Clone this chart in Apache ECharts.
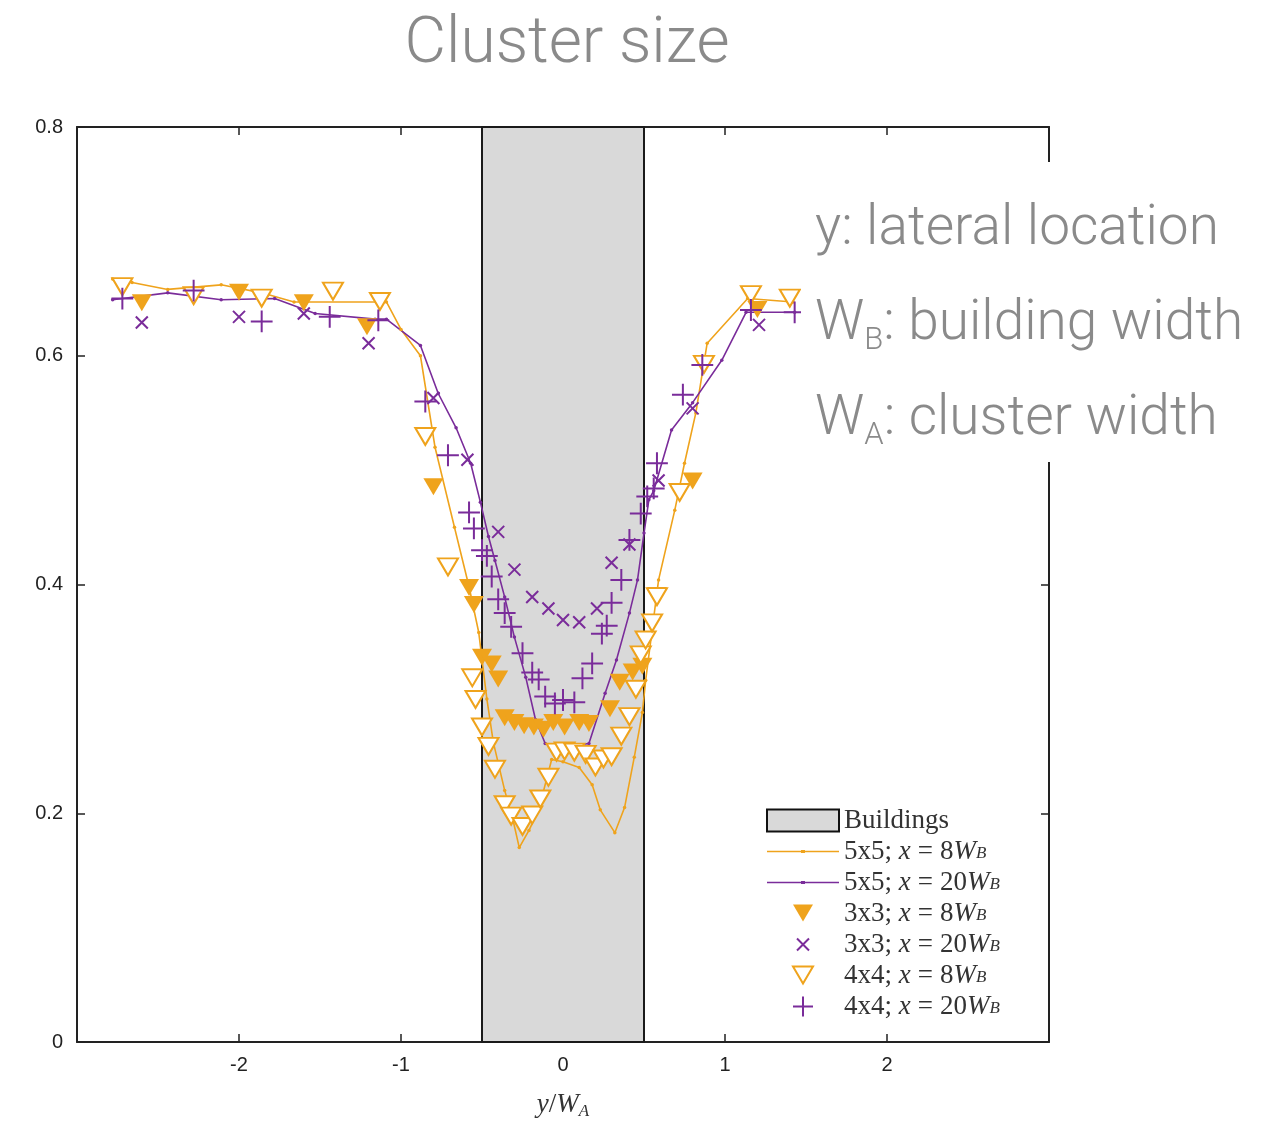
<!DOCTYPE html>
<html>
<head>
<meta charset="utf-8">
<script src="https://cdn.jsdelivr.net/npm/echarts@6/dist/echarts.min.js"></script>
<style>html,body{margin:0;padding:0;background:#fff;}#c{width:1282px;height:1125px;}</style>
</head>
<body>
<div id="c"></div>
<script>
// ---------- data (x = y/W_A, y = value) ----------
const buildingsRange = [-0.5, 0.5];
const xTicks = [-2, -1, 0, 1, 2];
const yTicks = [0, 0.2, 0.4, 0.6, 0.8];

const line5x5_8 = [[-2.78,0.667],[-2.66,0.664],[-2.44,0.658],[-2.11,0.662],[-1.86,0.655],[-1.66,0.647],[-1.09,0.647],[-1.00,0.623],[-0.88,0.600],[-0.79,0.520],[-0.67,0.450],[-0.58,0.398],[-0.52,0.358],[-0.47,0.300],[-0.43,0.262],[-0.36,0.220],[-0.31,0.195],[-0.27,0.170],[-0.21,0.185],[-0.15,0.203],[-0.07,0.247],[0.00,0.245],[0.10,0.240],[0.18,0.225],[0.23,0.203],[0.32,0.183],[0.38,0.205],[0.44,0.249],[0.49,0.288],[0.51,0.316],[0.59,0.404],[0.69,0.465],[0.75,0.506],[0.82,0.550],[0.89,0.611],[1.14,0.650],[1.42,0.647]];

const line5x5_20 = [[-2.78,0.649],[-2.44,0.655],[-2.11,0.649],[-1.78,0.650],[-1.53,0.637],[-1.16,0.632],[-1.09,0.632],[-0.88,0.609],[-0.77,0.567],[-0.66,0.537],[-0.57,0.506],[-0.51,0.472],[-0.46,0.442],[-0.42,0.421],[-0.36,0.389],[-0.30,0.354],[-0.23,0.319],[-0.17,0.282],[-0.11,0.261],[0.00,0.258],[0.16,0.261],[0.26,0.305],[0.33,0.334],[0.41,0.375],[0.46,0.404],[0.50,0.445],[0.53,0.474],[0.56,0.482],[0.67,0.535],[0.80,0.559],[0.98,0.596],[1.13,0.638],[1.43,0.638]];

const pts3x3_8 = [[-2.60,0.646],[-2.00,0.655],[-1.60,0.646],[-1.21,0.625],[-0.80,0.485],[-0.58,0.397],[-0.55,0.382],[-0.50,0.336],[-0.44,0.330],[-0.40,0.317],[-0.36,0.283],[-0.30,0.279],[-0.24,0.276],[-0.18,0.275],[-0.12,0.273],[-0.06,0.279],[0.01,0.275],[0.10,0.279],[0.16,0.278],[0.29,0.291],[0.35,0.314],[0.43,0.323],[0.49,0.328],[0.58,0.390],[0.80,0.490],[1.20,0.640]];

const pts3x3_20 = [[-2.60,0.629],[-2.00,0.634],[-1.60,0.637],[-1.20,0.611],[-0.80,0.563],[-0.59,0.509],[-0.40,0.446],[-0.30,0.413],[-0.19,0.389],[-0.09,0.379],[0.00,0.369],[0.10,0.367],[0.21,0.379],[0.30,0.419],[0.41,0.435],[0.59,0.491],[0.80,0.554],[1.21,0.627]];

const pts4x4_8 = [[-2.72,0.660],[-2.28,0.652],[-1.86,0.650],[-1.42,0.656],[-1.13,0.647],[-0.85,0.529],[-0.71,0.415],[-0.56,0.318],[-0.54,0.299],[-0.50,0.275],[-0.46,0.258],[-0.42,0.238],[-0.36,0.207],[-0.32,0.197],[-0.25,0.188],[-0.19,0.198],[-0.14,0.212],[-0.09,0.231],[-0.04,0.253],[0.01,0.254],[0.07,0.253],[0.14,0.251],[0.20,0.240],[0.25,0.247],[0.30,0.249],[0.36,0.267],[0.41,0.284],[0.45,0.308],[0.48,0.338],[0.51,0.351],[0.55,0.366],[0.58,0.389],[0.72,0.480],[0.87,0.592],[1.16,0.653],[1.40,0.650]];

const pts4x4_20 = [[-2.72,0.650],[-2.28,0.657],[-1.86,0.630],[-1.44,0.634],[-1.14,0.631],[-0.85,0.560],[-0.71,0.513],[-0.58,0.463],[-0.55,0.449],[-0.50,0.430],[-0.47,0.425],[-0.44,0.407],[-0.40,0.387],[-0.36,0.375],[-0.32,0.363],[-0.25,0.340],[-0.19,0.323],[-0.15,0.317],[-0.11,0.302],[-0.05,0.296],[0.00,0.299],[0.07,0.297],[0.12,0.318],[0.18,0.331],[0.24,0.357],[0.27,0.364],[0.30,0.384],[0.36,0.404],[0.41,0.439],[0.48,0.462],[0.52,0.477],[0.56,0.484],[0.58,0.506],[0.74,0.566],[0.86,0.592],[1.16,0.640],[1.43,0.638]];

const seriesNames = ['Buildings','5x5; x = 8W_B','5x5; x = 20W_B','3x3; x = 8W_B','3x3; x = 20W_B','4x4; x = 8W_B','4x4; x = 20W_B'];

// ---------- styles ----------
const ORANGE = '#EFA31C';
const PURPLE = '#7A2C9A';
const TRI = 'path://M0,0M26,22M3,2L23,2L13,19Z';
const CROSS = 'path://M0,0M22,22M5,5L17,17M17,5L5,17';
const PLUS = 'path://M0,0M22,22M11,1L11,21M1,11L21,11';
const LINEICON = 'path://M0,0M72,22M0,10.3L72,10.3L72,11.7L0,11.7ZM34,9.5L38,9.5L38,12.5L34,12.5Z';

const legendLabels = {
  'Buildings': '{n|Buildings}',
  '5x5; x = 8W_B': '{n|5x5; }{i|x}{e|=}{n|8}{i|W}{s|B}',
  '5x5; x = 20W_B': '{n|5x5; }{i|x}{e|=}{n|20}{i|W}{s|B}',
  '3x3; x = 8W_B': '{n|3x3; }{i|x}{e|=}{n|8}{i|W}{s|B}',
  '3x3; x = 20W_B': '{n|3x3; }{i|x}{e|=}{n|20}{i|W}{s|B}',
  '4x4; x = 8W_B': '{n|4x4; }{i|x}{e|=}{n|8}{i|W}{s|B}',
  '4x4; x = 20W_B': '{n|4x4; }{i|x}{e|=}{n|20}{i|W}{s|B}'
};

const serifRich = {
  n: {fontFamily: 'Liberation Serif', fontSize: 27, color: '#333', lineHeight: 22},
  e: {fontFamily: 'Liberation Serif', fontSize: 27, color: '#333', lineHeight: 22, padding: [0, 7, 0, 7]},
  i: {fontFamily: 'Liberation Serif', fontStyle: 'italic', fontSize: 27, color: '#333', lineHeight: 22},
  s: {fontFamily: 'Liberation Serif', fontStyle: 'italic', fontSize: 17, color: '#333', lineHeight: 6, verticalAlign: 'bottom'}
};

const chart = echarts.init(document.getElementById('c'), null, {renderer: 'canvas'});

const axisCommon = {
  type: 'value',
  axisLine: {show: true, onZero: false, lineStyle: {color: '#222', width: 2}},
  axisTick: {show: true, inside: true, length: 8, lineStyle: {color: '#222', width: 1.5}},
  splitLine: {show: false}
};

const option = {
  animation: false,
  backgroundColor: '#fff',
  title: {
    text: 'Cluster size',
    left: 562, top: 9, textAlign: 'center',
    textStyle: {fontFamily: 'Roboto', fontWeight: 300, fontSize: 64, color: '#8a8a8a'}
  },
  grid: {left: 77, right: 233, top: 127, bottom: 83, containLabel: false},
  xAxis: [
    Object.assign({}, axisCommon, {
      position: 'bottom', min: -3, max: 3, interval: 1,
      axisLabel: {show: true, margin: 13, fontFamily: 'Liberation Sans', fontSize: 20, color: '#222',
        showMinLabel: false, showMaxLabel: false,
        formatter: v => (xTicks.indexOf(v) >= 0 ? String(v) : '')},
      name: '{i|y}{n|/}{i|W}{s|A}',
      nameLocation: 'middle', nameGap: 48,
      nameTextStyle: {rich: {
        n: {fontFamily: 'Liberation Serif', fontSize: 27, color: '#333', lineHeight: 30},
        i: {fontFamily: 'Liberation Serif', fontStyle: 'italic', fontSize: 27, color: '#333', lineHeight: 30},
        s: {fontFamily: 'Liberation Serif', fontStyle: 'italic', fontSize: 17, color: '#333', lineHeight: 18, verticalAlign: 'bottom'}
      }}
    }),
    Object.assign({}, axisCommon, {
      position: 'top', min: -3, max: 3, interval: 1, axisLabel: {show: false}
    })
  ],
  yAxis: [
    Object.assign({}, axisCommon, {
      position: 'left', min: 0, max: 0.8, interval: 0.2,
      axisLabel: {show: true, margin: 14, fontFamily: 'Liberation Sans', fontSize: 20, color: '#222',
        formatter: v => (v === 0 ? '0' : v.toFixed(1))}
    }),
    Object.assign({}, axisCommon, {
      position: 'right', min: 0, max: 0.8, interval: 0.2, axisLabel: {show: false}
    })
  ],
  legend: {
    orient: 'vertical', left: 761, top: 802,
    itemWidth: 72, itemHeight: 22, itemGap: 4,
    symbolKeepAspect: true,
    selectedMode: false,
    formatter: name => legendLabels[name],
    textStyle: {rich: serifRich, padding: [0, 0, 0, 0]},
    data: [
      {name: seriesNames[0], icon: 'rect', itemStyle: {color: '#d9d9d9', borderColor: '#111', borderWidth: 2}},
      {name: seriesNames[1], icon: LINEICON, itemStyle: {color: ORANGE, borderWidth: 0}},
      {name: seriesNames[2], icon: LINEICON, itemStyle: {color: PURPLE, borderWidth: 0}},
      {name: seriesNames[3], icon: TRI, itemStyle: {color: ORANGE, borderWidth: 0}},
      {name: seriesNames[4], icon: CROSS, itemStyle: {color: PURPLE, borderColor: PURPLE, borderWidth: 2}},
      {name: seriesNames[5], icon: TRI, itemStyle: {color: '#fff', borderColor: ORANGE, borderWidth: 2}},
      {name: seriesNames[6], icon: PLUS, itemStyle: {color: PURPLE, borderColor: PURPLE, borderWidth: 2}}
    ]
  },
  series: [
    {
      name: seriesNames[0], type: 'line', data: [], silent: true,
      itemStyle: {color: '#d9d9d9'},
      markArea: {
        silent: true,
        itemStyle: {color: '#d9d9d9', borderColor: '#1a1a1a', borderWidth: 2},
        data: [[{xAxis: buildingsRange[0]}, {xAxis: buildingsRange[1]}]]
      }
    },
    {
      name: seriesNames[1], type: 'line', data: line5x5_8,
      symbol: 'circle', symbolSize: 3.5, showSymbol: true,
      lineStyle: {color: ORANGE, width: 1.6}, itemStyle: {color: ORANGE}, z: 3
    },
    {
      name: seriesNames[2], type: 'line', data: line5x5_20,
      symbol: 'circle', symbolSize: 3.5, showSymbol: true,
      lineStyle: {color: PURPLE, width: 1.6}, itemStyle: {color: PURPLE}, z: 3
    },
    {
      name: seriesNames[3], type: 'scatter', data: pts3x3_8,
      symbol: TRI, symbolSize: [26, 22],
      itemStyle: {color: ORANGE, opacity: 1}, z: 4
    },
    {
      name: seriesNames[4], type: 'scatter', data: pts3x3_20,
      symbol: CROSS, symbolSize: [22, 22],
      itemStyle: {color: PURPLE, borderColor: PURPLE, borderWidth: 2, opacity: 1}, z: 5
    },
    {
      name: seriesNames[5], type: 'scatter', data: pts4x4_8,
      symbol: TRI, symbolSize: [26, 22],
      itemStyle: {color: '#fff', borderColor: ORANGE, borderWidth: 2, opacity: 1}, z: 6
    },
    {
      name: seriesNames[6], type: 'scatter', data: pts4x4_20,
      symbol: PLUS, symbolSize: [24, 24],
      itemStyle: {color: PURPLE, borderColor: PURPLE, borderWidth: 2, opacity: 1}, z: 7
    }
  ],
  graphic: [
    {type: 'rect', left: 801, top: 162, z: 100, shape: {width: 481, height: 300}, style: {fill: '#fff'}},
    {type: 'text', left: 815, top: 203, z: 101,
      style: {text: 'y: lateral location', font: '300 55px Roboto', fill: '#8a8a8a'}},
    {type: 'text', left: 815, top: 298, z: 101,
      style: {text: '{m|W}{s|B}{m|: building width}',
        rich: {m: {fontFamily: 'Roboto', fontWeight: 300, fontSize: 55, fill: '#8a8a8a', lineHeight: 62},
               s: {fontFamily: 'Roboto', fontWeight: 300, fontSize: 31, fill: '#8a8a8a', lineHeight: 30, verticalAlign: 'bottom'}}}},
    {type: 'text', left: 815, top: 393, z: 101,
      style: {text: '{m|W}{s|A}{m|: cluster width}',
        rich: {m: {fontFamily: 'Roboto', fontWeight: 300, fontSize: 55, fill: '#8a8a8a', lineHeight: 62},
               s: {fontFamily: 'Roboto', fontWeight: 300, fontSize: 31, fill: '#8a8a8a', lineHeight: 30, verticalAlign: 'bottom'}}}}
  ]
};
chart.setOption(option);
</script>
</body>
</html>
